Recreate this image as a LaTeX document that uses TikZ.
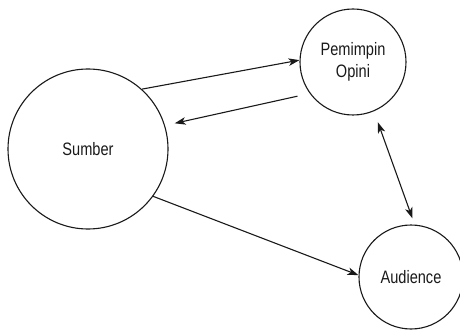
\documentclass[tikz,border=0pt]{standalone}
\usepackage{fontspec}
\setmainfont{Liberation Sans}[FakeStretch=0.81]
\usetikzlibrary{arrows.meta}
\begin{document}
\begin{tikzpicture}[x=1pt,y=-1pt,
  actor/.style={circle,draw=black!90,line width=1.1pt,inner sep=0pt,
    align=center,font=\fontsize{18}{22}\selectfont,text=black!90},
  flow/.style={-{Stealth[length=11pt,width=7.5pt,inset=3pt]},
    draw=black!90,line width=1.1pt}]
\useasboundingbox (0,0) rectangle (460,331);
\node[actor,minimum size=160pt] (s) at (88,149) {Sumber};
\node[actor,minimum size=106pt] (p) at (353,62) {Pemimpin\\Opini};
\node[actor,minimum size=104pt] (a) at (411,277) {Audience};
% Sumber sends to the opinion leader, who answers back
\draw[flow] (s.48) -- (p.178);
\draw[flow,shorten <=12.5pt,shorten >=9.9pt] (p.216) -- (s.17.4);
% two-way link between opinion leader and audience
\draw[flow,{Stealth[length=11pt,width=7.5pt,inset=3pt]}-{Stealth[length=11pt,width=7.5pt,inset=3pt]},
  shorten <=11.6pt,shorten >=6.5pt] (p.-67.7) -- (a.86.5);
% direct line from Sumber to the audience
\draw[flow] (s.-36) -- (a.178);
\end{tikzpicture}
\end{document}
